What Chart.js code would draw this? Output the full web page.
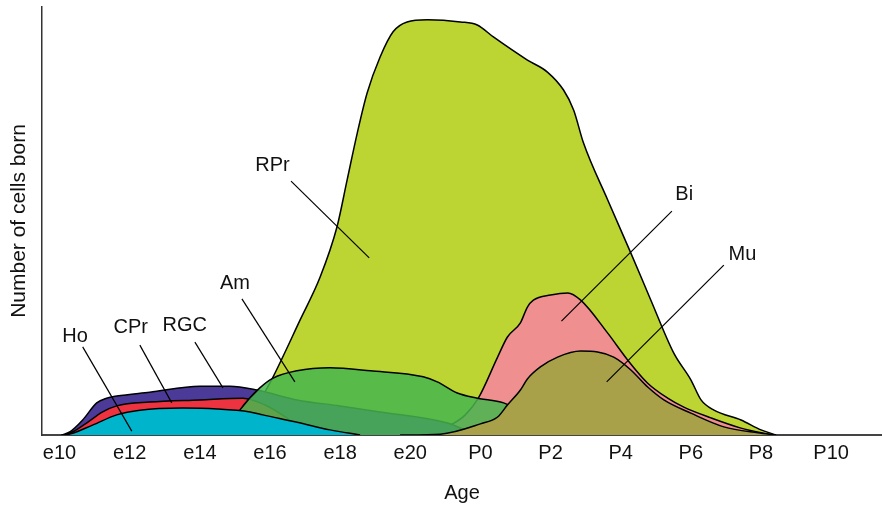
<!DOCTYPE html>
<html>
<head>
<meta charset="utf-8">
<title>Retinal cell birth order</title>
<script src="https://cdn.jsdelivr.net/npm/chart.js@4/dist/chart.umd.min.js"></script>
<style>
  html, body { margin: 0; padding: 0; background: #fff; }
  #chart { display: block; }
</style>
</head>
<body>
<canvas id="chart" width="882" height="507"></canvas>
<script>
// Age axis: embryonic days e10..e20, then postnatal P0..P10 (two-day steps)
const tickValues = [10, 12, 14, 16, 18, 20, 22, 24, 26, 28, 30, 32];
const tickLabels = ['e10', 'e12', 'e14', 'e16', 'e18', 'e20', 'P0', 'P2', 'P4', 'P6', 'P8', 'P10'];

// Relative number of cells born per type: [age, cells]
const rpr = [[15.29,0],[15.66,7.0],[16.09,13.6],[16.86,26.9],[17.43,36.9],[17.91,48.6],[18.2,59.6],
  [18.49,70.6],[18.77,79.9],[19.14,88.3],[19.51,94.2],[19.91,96.5],[20.49,97.0],[21.43,96.5],
  [21.91,95.8],[22.37,93.0],[23.34,87.6],[23.91,84.8],[24.37,80.6],[24.66,75.9],[24.94,68.2],
  [25.63,54.9],[26.29,42.5],[26.86,31.5],[27.51,19.2],[28.0,12.9],[28.29,8.2],[28.66,5.8],
  [29.43,3.5],[30.0,1.2],[30.43,0]];
const bi = [[19.71,0],[20.57,0.7],[21.14,2.3],[21.57,4.7],[21.94,8.6],[22.49,18.2],[22.77,22.9],
  [23.14,26.2],[23.34,29.9],[23.51,31.5],[24.0,32.7],[24.49,33.2],[24.86,31.5],[25.63,23.8],
  [26.2,17.5],[26.77,12.1],[27.34,8.6],[27.8,6.5],[28.57,4.0],[29.43,1.6],[30.29,0]];
const mu = [[19.71,0],[20.86,0.2],[22.0,2.6],[22.49,4.2],[22.77,7.0],[23.14,10.5],[23.34,13.1],
  [23.71,15.9],[24.2,18.2],[24.86,19.6],[25.34,19.4],[25.8,18.2],[26.29,15.2],[26.77,11.2],
  [27.23,8.2],[28.0,5.1],[28.94,1.9],[29.91,0.5],[30.43,0]];
const am = [[14.71,0],[15.14,5.8],[15.71,11.0],[16.09,13.3],[16.77,15.0],[17.71,15.7],[18.86,15.0],
  [20.37,13.6],[20.77,12.4],[21.34,9.8],[21.91,8.6],[22.66,7.5],[23.14,5.4],[23.71,0]];
const rgc = [[10.06,0],[10.29,0.7],[10.66,3.5],[11.06,7.5],[11.34,8.6],[11.63,9.1],[12.57,10.0],
  [14.0,11.4],[14.86,11.4],[15.63,10.5],[16.77,8.2],[18.0,6.8],[19.14,5.4],[21.06,2.8],
  [21.71,0.7],[22.0,0]];
const cpr = [[10.11,0],[10.37,0.7],[10.77,2.8],[11.23,5.4],[11.63,6.8],[12.57,7.7],[14.0,8.2],
  [15.23,8.6],[15.86,7.0],[16.57,3.5],[17.14,0]];
const ho = [[10.06,0],[10.29,0.2],[10.94,2.3],[11.63,4.7],[12.29,5.8],[13.51,6.3],[14.49,6.1],
  [15.43,5.4],[15.8,4.7],[16.77,3.0],[17.71,1.2],[18.57,0]];

// Callout labels with leader lines, in data coordinates
const callouts = [
  { text: 'Ho',  at: [10.44, 23.0], from: [10.66, 20.6], to: [12.06, 0.9] },
  { text: 'CPr', at: [12.03, 25.2], from: [12.29, 21.0], to: [13.2, 7.5] },
  { text: 'RGC', at: [13.57, 25.6], from: [13.86, 21.7], to: [14.66, 11.0] },
  { text: 'Am',  at: [15.0, 35.4],  from: [15.2, 31.8],  to: [16.71, 12.4] },
  { text: 'RPr', at: [16.07, 62.9], from: [16.6, 59.3],  to: [18.83, 41.4] },
  { text: 'Bi',  at: [27.81, 56.2], from: [27.46, 52.3], to: [24.31, 26.6] },
  { text: 'Mu',  at: [29.47, 42.1], from: [28.94, 39.7], to: [25.6, 12.4] }
];

const FONT = "'Liberation Sans', Arial, Helvetica, sans-serif";
Chart.defaults.font.family = FONT;

const toPoints = arr => arr.map(([x, y]) => ({ x, y }));

function area(label, data, fill, order) {
  return {
    label,
    data: toPoints(data),
    backgroundColor: fill,
    borderColor: '#000',
    borderWidth: 1.5,
    fill: 'origin',
    pointRadius: 0,
    cubicInterpolationMode: 'monotone',
    order
  };
}

const calloutPlugin = {
  id: 'callouts',
  afterDatasetsDraw(chart) {
    const { ctx, scales: { x, y } } = chart;
    ctx.save();
    ctx.strokeStyle = '#000';
    ctx.lineWidth = 1.2;
    ctx.fillStyle = '#111';
    ctx.font = '20px ' + FONT;
    ctx.textAlign = 'center';
    ctx.textBaseline = 'middle';
    callouts.forEach(c => {
      ctx.beginPath();
      ctx.moveTo(x.getPixelForValue(c.from[0]), y.getPixelForValue(c.from[1]));
      ctx.lineTo(x.getPixelForValue(c.to[0]), y.getPixelForValue(c.to[1]));
      ctx.stroke();
      ctx.fillText(c.text, x.getPixelForValue(c.at[0]), y.getPixelForValue(c.at[1]));
    });
    ctx.restore();
  }
};

new Chart(document.getElementById('chart'), {
  type: 'line',
  data: {
    datasets: [
      area('RPr', rpr, '#bdd532', 7),
      area('Bi',  bi,  '#f08f8f', 6),
      area('RGC', rgc, '#4b3a97', 5),
      area('CPr', cpr, '#ee3340', 4),
      area('Am',  am,  'rgba(70,182,78,0.85)', 3),
      area('Ho',  ho,  '#00b5cb', 2),
      area('Mu',  mu,  '#a8a14a', 1)
    ]
  },
  options: {
    responsive: false,
    animation: false,
    devicePixelRatio: 1,
    layout: { padding: { top: 7, right: 0, bottom: 0, left: 0 } },
    plugins: {
      legend: { display: false },
      tooltip: { enabled: false }
    },
    scales: {
      x: {
        type: 'linear',
        min: 9.5,
        max: 33.45,
        afterFit(scale) { scale.height = 72; },
        afterBuildTicks(scale) { scale.ticks = tickValues.map(v => ({ value: v })); },
        grid: { display: false, drawTicks: false },
        border: { display: true, color: '#444', width: 2 },
        ticks: {
          padding: 6,
          color: '#111',
          font: { size: 20 },
          maxRotation: 0,
          autoSkip: false,
          callback: v => tickLabels[tickValues.indexOf(v)]
        },
        title: {
          display: true,
          text: 'Age',
          color: '#111',
          font: { size: 20 },
          padding: { top: 0, bottom: 2 }
        }
      },
      y: {
        min: 0,
        max: 100,
        afterFit(scale) { scale.width = 42; },
        grid: { display: false, drawTicks: false },
        border: { display: true, color: '#333', width: 1.5 },
        ticks: { display: false },
        title: {
          display: true,
          text: 'Number of cells born',
          color: '#111',
          font: { size: 21 },
          padding: { top: 7, bottom: 0 }
        }
      }
    }
  },
  plugins: [calloutPlugin]
});
</script>
</body>
</html>
